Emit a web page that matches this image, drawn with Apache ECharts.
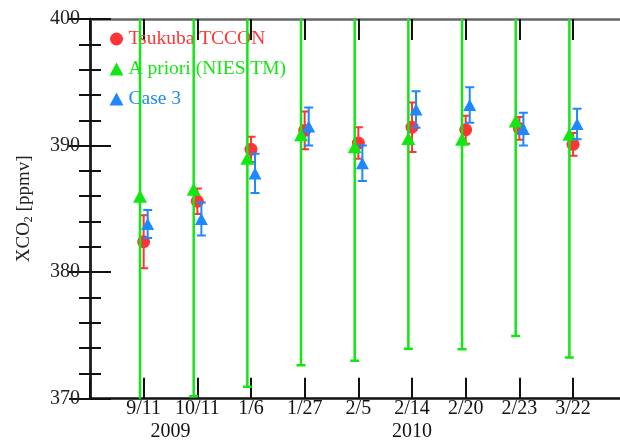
<!DOCTYPE html>
<html>
<head>
<meta charset="utf-8">
<script src="https://cdn.jsdelivr.net/npm/echarts@6/dist/echarts.min.js"></script>
<style>html,body{margin:0;padding:0;background:#fff;}#c{width:620px;height:441px;}</style>
</head>
<body>
<div id="c"></div>
<script>
const categories = ['9/11','10/11','1/6','1/27','2/5','2/14','2/20','2/23','3/22'];
const years = ['2009','2010'];
const yearPos = [1.5, 6];
const yTicks = [370, 380, 390, 400];

const tccon    = [382.4, 385.6, 389.7, 391.2, 390.2, 391.45, 391.25, 391.35, 390.1];
const tcconErr = [2.1, 1.0, 1.0, 1.5, 1.25, 1.95, 1.1, 0.9, 0.9];
const apriori    = [386.0, 386.55, 389.0, 390.85, 389.9, 390.55, 390.5, 391.95, 390.9];
const aprioriErr = [17.0, 16.35, 18.05, 18.2, 16.9, 16.6, 16.6, 17.0, 17.65];
const case3    = [383.8, 384.2, 387.8, 391.5, 388.6, 392.85, 393.2, 391.3, 391.7];
const case3Err = [1.1, 1.3, 1.55, 1.5, 1.4, 1.45, 1.4, 1.3, 1.2];

const RED = '#ff3535', GREEN = '#14e614', BLUE = '#1e88ff';
const FONT = 'Liberation Serif';
const offs = {red: 0.0, green: -0.068, blue: 0.075};

function pts(vals, off) { return vals.map((v, i) => [i + 1 + off, v]); }
function errs(vals, e, off) { return vals.map((v, i) => [i + 1 + off, v - e[i], v + e[i]]); }

function errSeries(name, data, color, lw, z) {
  return {
    type: 'custom', name: name, data: data, clip: true, z: z, silent: true,
    encode: {x: 0, y: [1, 2]},
    renderItem: function (params, api) {
      const x = api.value(0);
      const lo = api.coord([x, api.value(1)]);
      const hi = api.coord([x, api.value(2)]);
      const hw = 4.5;
      const st = {stroke: color, lineWidth: lw};
      return {
        type: 'group',
        children: [
          {type: 'line', shape: {x1: lo[0], y1: lo[1], x2: hi[0], y2: hi[1]}, style: st},
          {type: 'line', shape: {x1: lo[0] - hw, y1: lo[1], x2: lo[0] + hw, y2: lo[1]}, style: st},
          {type: 'line', shape: {x1: hi[0] - hw, y1: hi[1], x2: hi[0] + hw, y2: hi[1]}, style: st}
        ]
      };
    }
  };
}

const chart = echarts.init(document.getElementById('c'), null, {renderer: 'canvas'});
const axisBase = {
  type: 'value', min: 0, max: 10, interval: 1,
  splitLine: {show: false},
  axisTick: {show: true, inside: true, length: 21, lineStyle: {color: '#111', width: 2}}
};
const yBase = {
  type: 'value', min: 370, max: 400, interval: 10,
  splitLine: {show: false},
  axisLine: {show: true, lineStyle: {color: '#222', width: 2.5}},
  axisTick: {show: true, inside: true, length: 21, lineStyle: {color: '#111', width: 2}},
  minorTick: {show: true, splitNumber: 5, length: 11, lineStyle: {color: '#111', width: 2}}
};

chart.setOption({
  animation: false,
  backgroundColor: '#fff',
  grid: {left: 90, top: 19, width: 536.7, bottom: 42.3, containLabel: false, outerBoundsMode: 'none'},
  legend: {
    orient: 'vertical', left: 109.5, top: 29, padding: 0, itemWidth: 14, itemHeight: 13, itemGap: 10, z: 1,
    textStyle: {fontFamily: FONT, fontSize: 19.5},
    data: [
      {name: 'Tsukuba TCCON', icon: 'circle', textStyle: {color: RED}},
      {name: 'A priori (NIES TM)', icon: 'triangle', textStyle: {color: GREEN}},
      {name: 'Case 3', icon: 'triangle', textStyle: {color: BLUE}}
    ]
  },
  xAxis: [
    Object.assign({}, axisBase, {
      position: 'bottom',
      axisLine: {show: true, onZero: false, lineStyle: {color: '#111', width: 2.5}},
      axisLabel: {
        show: true, margin: 0, fontFamily: FONT, fontSize: 20, color: '#111',
        formatter: v => categories[v - 1] || ''
      }
    }),
    Object.assign({}, axisBase, {
      position: 'top',
      axisLine: {show: true, onZero: false, lineStyle: {color: '#666', width: 2.5}},
      axisLabel: {show: false}
    }),
    {
      type: 'value', min: 0, max: 10, position: 'bottom', offset: 23,
      axisLine: {show: false}, axisTick: {show: false}, splitLine: {show: false},
      axisLabel: {
        show: true, margin: 0, fontFamily: FONT, fontSize: 20, color: '#111',
        customValues: yearPos,
        formatter: v => years[yearPos.indexOf(v)] || ''
      }
    }
  ],
  yAxis: [
    Object.assign({}, yBase, {
      position: 'left',
      axisLabel: {show: true, margin: 10, fontFamily: FONT, fontSize: 20, color: '#222',
        customValues: yTicks},
      name: '{a|XCO}{b|2}{a| [ppmv]}',
      nameLocation: 'middle', nameRotate: 90, nameGap: 55,
      nameTextStyle: {
        rich: {
          a: {fontFamily: FONT, fontSize: 19, color: '#222', lineHeight: 22},
          b: {fontFamily: FONT, fontSize: 12, color: '#222', lineHeight: 14, verticalAlign: 'bottom'}
        }
      }
    }),
    Object.assign({}, yBase, {position: 'right', axisLabel: {show: false}})
  ],
  series: [
    errSeries('tcconErr', errs(tccon, tcconErr, offs.red), RED, 2, 2),
    {type: 'scatter', name: 'Tsukuba TCCON', data: pts(tccon, offs.red), symbol: 'circle', symbolSize: 13,
      itemStyle: {color: RED, opacity: 1}, z: 3},
    errSeries('aprioriErr', errs(apriori, aprioriErr, offs.green), GREEN, 2.5, 4),
    {type: 'scatter', name: 'A priori (NIES TM)', data: pts(apriori, offs.green), symbol: 'triangle', symbolSize: [14, 13],
      itemStyle: {color: GREEN, opacity: 1}, z: 5},
    errSeries('case3Err', errs(case3, case3Err, offs.blue), BLUE, 2, 6),
    {type: 'scatter', name: 'Case 3', data: pts(case3, offs.blue), symbol: 'triangle', symbolSize: [13, 12],
      itemStyle: {color: BLUE, opacity: 1}, z: 7}
  ]
});
</script>
</body>
</html>
